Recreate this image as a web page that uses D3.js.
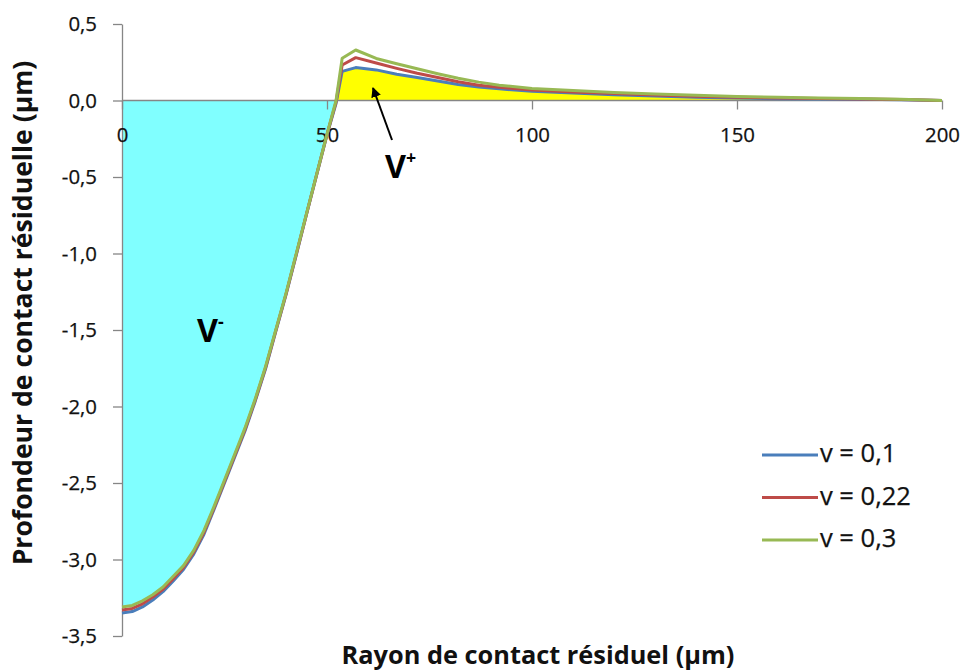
<!DOCTYPE html>
<html>
<head>
<meta charset="utf-8">
<script src="https://cdn.jsdelivr.net/npm/d3@7"></script>
<style>
  html, body { margin: 0; padding: 0; background: #fff; }
  svg { display: block; font-family: "Open Sans", sans-serif; }
</style>
</head>
<body>
<svg id="chart" width="964" height="670"></svg>
<script>
// ---- Data (µm) ----
const radius = [0, 2.5, 5, 7.5, 10, 12.5, 15, 17.5, 20, 22.5, 25, 27.5, 30, 32.5, 35, 37.5, 40, 42.5, 45, 47.5, 50, 52.2, 53.7, 57, 62, 67, 72, 77, 82, 87, 92, 100, 110, 120, 130, 140, 150, 160, 170, 180, 190, 200];
const depthNu01 = [-3.35, -3.34, -3.31, -3.265, -3.21, -3.14, -3.065, -2.965, -2.835, -2.67, -2.5, -2.33, -2.16, -1.965, -1.755, -1.51, -1.27, -1.01, -0.745, -0.485, -0.225, -0.02, 0.19, 0.215, 0.2, 0.172, 0.15, 0.128, 0.105, 0.088, 0.076, 0.06, 0.049, 0.038, 0.03, 0.022, 0.016, 0.012, 0.01, 0.008, 0.005, 0.0];
const depthNu022 = [-3.33, -3.32, -3.29, -3.245, -3.195, -3.125, -3.052, -2.952, -2.822, -2.66, -2.49, -2.32, -2.15, -1.957, -1.747, -1.505, -1.265, -1.005, -0.742, -0.482, -0.222, -0.01, 0.232, 0.28, 0.245, 0.21, 0.178, 0.15, 0.122, 0.1, 0.086, 0.068, 0.056, 0.045, 0.036, 0.028, 0.021, 0.016, 0.013, 0.01, 0.006, 0.0];
const depthNu03 = [-3.31, -3.30, -3.27, -3.23, -3.18, -3.11, -3.04, -2.94, -2.81, -2.65, -2.48, -2.31, -2.14, -1.95, -1.74, -1.50, -1.26, -1.00, -0.74, -0.48, -0.22, 0.0, 0.276, 0.33, 0.275, 0.24, 0.208, 0.175, 0.145, 0.12, 0.1, 0.078, 0.066, 0.052, 0.043, 0.034, 0.026, 0.021, 0.017, 0.013, 0.008, 0.0];
const seriesNames = ["v = 0,1", "v = 0,22", "v = 0,3"];
const seriesColors = ["#4A7EBB", "#BE4B48", "#98B954"];
const xTicks = [0, 50, 100, 150, 200];
const yTicks = [-3.5, -3.0, -2.5, -2.0, -1.5, -1.0, -0.5, 0.0, 0.5];
const xTitle = "Rayon de contact résiduel (µm)";
const yTitle = "Profondeur de contact résiduelle (µm)";

const svg = d3.select("#chart");
const x = d3.scaleLinear().domain([0, 200]).range([122, 942]);
const y = d3.scaleLinear().domain([-3.5, 0.5]).range([636, 24]);
const loc = d3.formatLocale({decimal: ",", thousands: " ", grouping: [3], currency: ["", ""], minus: "-"});
const fmtY = loc.format(".1f");

// size a text so that it spans a given width
function fitSize(str, weight, width) {
  const t = svg.append("text").attr("font-size", 20).attr("font-weight", weight).text(str);
  const w = t.node().getComputedTextLength();
  t.remove();
  return 20 * width / w;
}
const tickSize = fitSize("100", "normal", 35);
const legendSize = fitSize("v = 0,22", "normal", 91);
const titleSizeX = fitSize(xTitle, "bold", 393);
const titleSizeY = fitSize(yTitle, "bold", 505);
const vSize = fitSize("V", "bold", 21);

const series = [depthNu01, depthNu022, depthNu03].map((vals, i) => ({
  name: seriesNames[i], color: seriesColors[i],
  pts: radius.map((r, j) => ({x: r, y: vals[j]}))
}));

// ---- filled areas ----
const negPts = series[2].pts.filter(p => p.y <= 0 && p.x <= 52.2);
svg.append("path")
  .datum(negPts)
  .attr("fill", "#80FFFF")
  .attr("d", d3.area().x(d => x(d.x)).y0(y(0)).y1(d => y(d.y)));
const posPts = series[0].pts.filter(p => p.x >= 52.2).map(p => ({x: p.x, y: Math.max(0, p.y)}));
svg.append("path")
  .datum(posPts)
  .attr("fill", "#FFFF00")
  .attr("d", d3.area().x(d => x(d.x)).y0(y(0)).y1(d => y(d.y)));

// ---- axes ----
const axisColor = "#868686";
const gy = svg.append("g").attr("transform", `translate(${x(0)},0)`)
  .call(d3.axisLeft(y).tickValues(yTicks).tickSize(9).tickSizeOuter(0).tickFormat(d => fmtY(d)));
gy.selectAll("line, path").attr("stroke", axisColor).attr("stroke-width", 1.3);
gy.selectAll("text").attr("font-size", tickSize).attr("font-family", "Open Sans").attr("fill", "#111")
  .attr("stroke", "#111").attr("stroke-width", 0.25).attr("x", -25);

const gx = svg.append("g").attr("transform", `translate(0,${y(0)})`)
  .call(d3.axisBottom(x).tickValues(xTicks).tickSize(9).tickSizeOuter(0).tickFormat(d => d));
gx.selectAll("line, path").attr("stroke", axisColor).attr("stroke-width", 1.3);
gx.select(".domain").attr("d", `M${x(0)},0H${x(200)}`);
gx.selectAll("text").attr("font-size", tickSize).attr("font-family", "Open Sans").attr("fill", "#111")
  .attr("stroke", "#111").attr("stroke-width", 0.25).attr("y", 27);

// ---- lines ----
const line = d3.line().x(d => x(d.x)).y(d => y(d.y));
series.forEach(s => {
  svg.append("path").datum(s.pts)
    .attr("fill", "none").attr("stroke", s.color).attr("stroke-width", 3)
    .attr("stroke-linejoin", "round").attr("d", line);
});

// ---- axis titles ----
svg.append("text").attr("x", 538).attr("y", 664).attr("text-anchor", "middle")
  .attr("font-size", titleSizeX).attr("font-weight", "bold").attr("fill", "#111").text(xTitle);
svg.append("text").attr("transform", "translate(32,313) rotate(-90)").attr("text-anchor", "middle")
  .attr("font-size", titleSizeY).attr("font-weight", "bold").attr("fill", "#111").text(yTitle);

// ---- legend ----
const lg = svg.append("g");
series.forEach((s, i) => {
  const yy = 455 + i * 42.5;
  lg.append("line").attr("x1", 762).attr("x2", 818).attr("y1", yy).attr("y2", yy)
    .attr("stroke", s.color).attr("stroke-width", 3);
  lg.append("text").attr("x", 820).attr("y", yy + 7).attr("font-size", legendSize).attr("fill", "#111")
    .attr("stroke", "#111").attr("stroke-width", 0.25).text(s.name);
});

// ---- annotations ----
const vm = svg.append("text").attr("x", 197).attr("y", 342).attr("font-size", vSize).attr("font-weight", "bold").attr("fill", "#000");
vm.append("tspan").text("V");
vm.append("tspan").attr("font-size", vSize * 0.55).attr("dy", -vSize * 0.42).text("-");
const vp = svg.append("text").attr("x", 385).attr("y", 178).attr("font-size", vSize).attr("font-weight", "bold").attr("fill", "#000");
vp.append("tspan").text("V");
vp.append("tspan").attr("font-size", vSize * 0.55).attr("dy", -vSize * 0.42).text("+");

svg.append("defs").append("marker").attr("id", "ah").attr("viewBox", "0 0 10 10")
  .attr("refX", 9).attr("refY", 5).attr("markerWidth", 5).attr("markerHeight", 5)
  .attr("orient", "auto").attr("markerUnits", "strokeWidth")
  .append("path").attr("d", "M0,0L10,5L0,10z").attr("fill", "#000");
svg.append("line").attr("x1", 392).attr("y1", 140).attr("x2", 373).attr("y2", 88)
  .attr("stroke", "#000").attr("stroke-width", 2).attr("marker-end", "url(#ah)");
</script>
</body>
</html>
